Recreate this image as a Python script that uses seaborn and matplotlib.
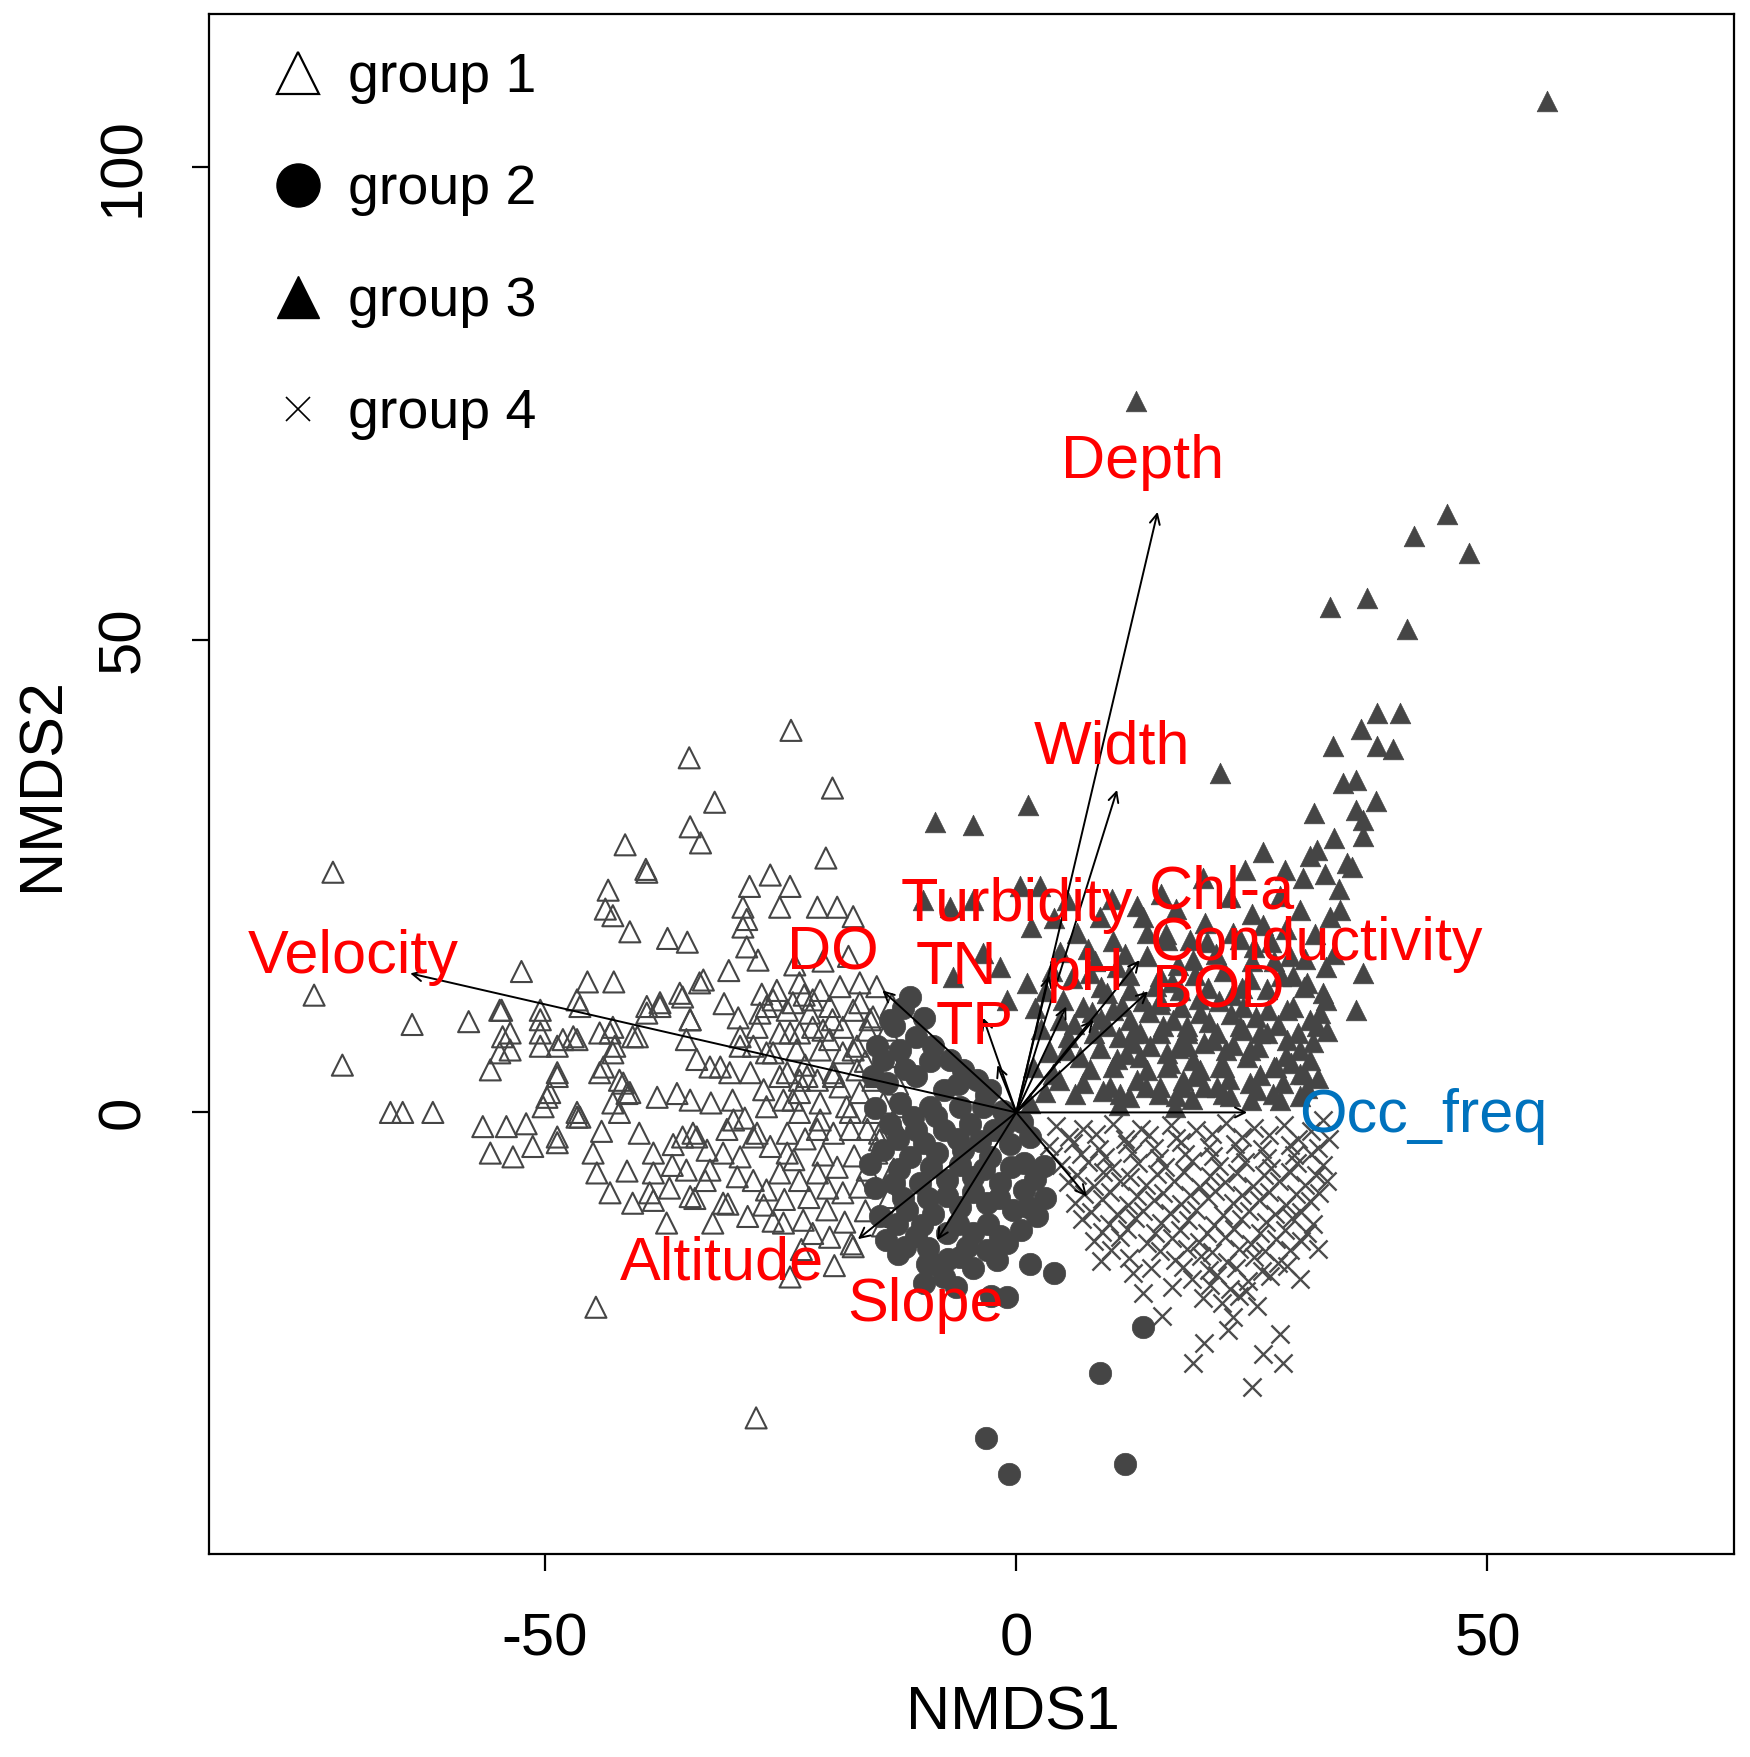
import numpy as np
import pandas as pd
import matplotlib
matplotlib.use("Agg")
import matplotlib.pyplot as plt
from matplotlib.lines import Line2D
import seaborn as sns

# ==========================================================
# Data
# ==========================================================

group1_pts = [
    (-72.5, 25.4), (-74.5, 12.4), (-71.5, 5.0), (-64.1, 9.3), (-58.1, 9.6), (-52.5, 14.9),
    (-66.4, 0.0), (-65.1, 0.0), (-61.9, 0.0),
    (-45.5, 13.8), (-42.7, 13.8), (-54.6, 10.8), (-50.5, 10.8), (-46.6, 11.9),
    (-54.5, 8.0), (-53.7, 6.6), (-50.5, 8.4), (-50.5, 7.0), (-48.1, 7.7), (-46.6, 7.7),
    (-43.1, 8.4), (-42.6, 7.0), (-40.2, 8.0), (-39.2, 11.2), (-37.8, 11.6), (-35.4, 12.2), (-34.6, 9.8),
    (-55.8, 4.5), (-48.7, 3.8), (-49.8, 1.6), (-50.2, 0.6), (-43.8, 4.8), (-41.7, 3.1), (-41.3, 2.0),
    (-38.1, 1.6), (-36.0, 2.0), (-34.6, 1.3), (-46.6, 0.0), (-42.1, 0.0), (-56.6, -1.5), (-54.1, -1.5),
    (-48.7, -2.6), (-34.3, -2.2),
    (-34.7, 37.5), (-34.6, 30.2), (-33.5, 28.5), (-41.5, 28.3), (-39.3, 25.7), (-43.3, 23.5),
    (-43.6, 21.5), (-42.8, 20.8), (-41.0, 19.1), (-37.0, 18.4), (-34.9, 18.0), (-23.9, 40.4),
    (-19.5, 34.3), (-32.0, 32.8), (-20.2, 26.9), (-26.1, 25.1), (-28.3, 23.9), (-24.0, 23.9),
    (-29.0, 21.7), (-25.1, 21.7), (-21.1, 21.7), (-19.0, 21.7), (-17.3, 20.7), (-28.6, 20.4),
    (-29.0, 19.6), (-28.6, 17.5), (-27.4, 16.1), (-33.2, 14.0), (-39.2, 25.4),
    (-54.8, 10.8), (-53.7, 8.4), (-54.8, 6.3), (-50.5, 9.8), (-48.7, 7.0), (-47.0, 8.0), (-46.3, 11.2),
    (-44.2, 8.4), (-42.8, 9.0), (-40.7, 8.0), (-42.8, 6.3), (-48.7, 4.2), (-49.5, 2.1), (-44.2, 4.2),
    (-42.1, 3.4), (-41.0, 2.1), (-42.8, 1.0), (-46.3, -0.5),
    (-39.2, 10.5), (-37.8, 11.2), (-35.7, 12.6), (-33.6, 13.7), (-34.6, 9.8), (-35.0, 7.7), (-33.9, 5.6),
    (-32.5, 4.8), (-30.4, 4.2), (-29.3, 8.0), (-27.9, 7.0), (-26.5, 6.3), (-24.3, 4.2), (-23.0, 3.4),
    (-27.2, 10.5), (-25.8, 11.9), (-23.7, 11.6), (-21.6, 11.9), (-19.8, 11.2), (-16.6, 11.6),
    (-15.5, 9.8), (-24.0, 8.4), (-21.6, 9.0), (-19.8, 7.7), (-17.3, 6.6),
    (-55.8, -4.3), (-53.4, -4.7), (-51.3, -3.6), (-48.7, -3.2), (-46.6, -0.5), (-44.9, -4.3),
    (-44.5, -6.4), (-43.1, -8.5), (-40.7, -9.6), (-38.5, -9.3), (-38.5, -4.3), (-38.5, -6.4),
    (-35.4, -2.6), (-33.9, -2.6), (-35.0, -6.1), (-34.6, -8.9), (-32.5, -6.1), (-31.1, -4.3),
    (-31.1, -9.6), (-32.2, -11.7), (-37.1, -11.7), (-30.0, -0.8), (-27.9, -2.6), (-29.3, -4.7),
    (-27.9, -7.2), (-26.5, -8.2), (-25.1, -6.4), (-26.1, -3.6), (-24.3, -4.3), (-23.0, -7.2),
    (-21.1, -6.4), (-24.7, -11.7), (-22.6, -11.4), (-20.1, -10.3), (-18.4, -8.5), (-17.3, -14.2),
    (-19.8, -13.2),
    (-24.7, 1.3), (-23.0, 0.0), (-20.8, -0.8), (-19.4, -2.2), (-17.6, 0.0), (-15.8, -1.8),
    (-14.5, -2.9), (-16.6, 2.1), (-18.7, 2.7), (-23.0, 2.1), (-21.1, 3.4), (-19.4, 4.2),
    (-15.2, 3.4), (-14.1, 1.0), (-15.8, -6.1), (-16.6, -7.9), (-14.8, -4.3),
    (-25.4, 12.9), (-23.0, 13.7), (-20.8, 12.9), (-18.7, 13.3), (-16.6, 13.7), (-14.8, 13.3),
    (-26.5, 11.2), (-24.3, 10.8), (-21.9, 10.5), (-17.3, 10.8), (-15.2, 10.1), (-27.5, 9.0),
    (-25.1, 8.4), (-23.0, 8.4), (-20.5, 8.7), (-18.4, 9.0), (-15.8, 8.7), (-13.7, 8.7),
    (-25.8, 6.3), (-23.3, 6.6), (-20.8, 6.6), (-18.4, 6.3), (-16.9, 7.0), (-29.3, 7.0),
    (-31.4, 4.8), (-28.2, 4.2), (-25.1, 3.8), (-22.2, 3.8), (-19.4, 3.8), (-16.9, 4.5), (-14.8, 3.8),
    (-30.1, 1.3), (-26.5, 0.6), (-23.7, 1.3), (-20.8, 1.0), (-18.0, 0.6), (-15.2, 0.0), (-12.3, 0.6),
    (-30.7, -1.8), (-27.5, -2.2), (-24.3, -2.2), (-21.1, -1.8), (-17.6, -1.8), (-14.5, -2.2),
    (-17.5, -13.9), (-19.3, -16.2), (-24.0, -17.4), (-22.8, -14.5), (-25.8, -11.5), (-30.6, -9.7),
    (-34.1, -9.1), (-38.9, -8.5), (-41.3, -6.2), (-36.5, -5.6), (-13.0, -6.0), (-13.5, -9.0),
    (-12.8, -11.0), (-14.2, -12.0), (-20.5, -4.5), (-22.0, -9.0), (-28.5, -11.0),
    (-29.5, 10.0), (-27.0, 12.5), (-22.5, 12.4), (-19.5, 9.8), (-16.0, 5.4), (-13.5, 5.9),
    (-13.2, 11.4), (-12.6, 3.0), (-13.0, -1.0), (-22.4, 5.0), (-26.8, 2.4), (-28.8, -0.6),
    (-32.4, 1.0), (-32.8, -4.0), (-29.6, -6.8), (-23.6, -5.0), (-20.0, -8.0), (-17.2, -4.6),
    (-16.0, -10.4), (-18.2, -11.6), (-21.6, -12.8), (-26.8, -9.8), (-22.4, -2.8), (-19.0, -5.8),
    (-24.6, -9.2), (-33.0, -7.2), (-36.8, -8.0), (-36.4, -3.4), (-40.0, -2.2), (-44.0, -2.0),
    (-52.0, -1.2), (-20.5, 16.0), (-17.8, 16.5), (-23.5, 15.6), (-31.0, 11.5), (-30.5, 15.0),
    (-44.6, -20.6), (-27.6, -32.3),
]

group2_pts = [
    (-11.3, 12.2), (-13.4, 9.8), (-12.3, 6.6), (-13.0, 9.1), (-10.6, 8.0),
    (-8.8, 7.0), (-7.0, 5.5), (-5.6, 4.5), (-4.2, 3.4), (-2.8, 2.4), (-14.1, 5.5), (-13.7, 3.1),
    (-10.6, 3.8), (-7.7, 2.4), (-12.3, 1.0), (-9.2, 0.6), (-6.0, 0.6), (-3.5, 0.6), (-13.4, -1.2),
    (-10.6, -1.9), (-7.7, -1.9), (-4.9, -1.2), (-2.4, -1.9), (-14.1, -4.0), (-11.3, -4.7),
    (-8.4, -4.3), (-5.6, -4.0), (-2.8, -4.7), (-0.7, -3.3), (1.5, -2.6), (0.8, -5.4), (2.9, -5.7),
    (-13.0, -7.5), (-10.2, -7.5), (-7.4, -7.1), (-4.6, -6.8), (-1.7, -7.5), (0.8, -8.2),
    (-11.6, -10.3), (-8.8, -10.7), (-6.0, -10.0), (-3.1, -9.6), (-0.3, -10.3), (2.2, -11.0),
    (-10.6, -13.1), (-7.4, -12.8), (-4.6, -12.8), (-1.7, -13.1), (-8.8, -16.0), (-6.0, -15.3),
    (-3.1, -14.5), (-1.0, -13.8), (-7.7, -17.4), (-9.5, -16.0),
    (-14.8, 7.0), (-15.0, -8.0), (-14.5, -11.0), (-13.8, -13.5), (-12.5, -15.0),
    (-12.0, 11.0), (-9.8, 10.0), (-11.8, 4.6), (-9.2, 5.4), (-6.2, 3.0), (-3.2, 1.8), (-1.4, 0.2),
    (-11.0, -0.5), (-8.5, -0.4), (-6.2, -2.8), (-3.8, -3.0), (-1.2, -1.2), (0.6, -1.0),
    (-12.5, -2.8), (-9.8, -3.2), (-12.4, -6.0), (-9.0, -5.8), (-6.0, -5.6), (-3.4, -6.0),
    (-0.6, -5.8), (2.0, -7.0), (-12.0, -9.0), (-9.4, -9.0), (-7.4, -8.8), (-4.6, -8.4),
    (-1.8, -9.0), (1.2, -10.0), (-12.6, -11.8), (-10.0, -11.9), (-6.2, -11.8), (-3.0, -11.8),
    (0.5, -12.4), (-11.8, -14.2), (-9.4, -14.3), (-5.2, -14.2), (-2.0, -15.6), (-7.2, -15.5),
    (-4.6, -16.4), (-9.8, -18.0), (-6.4, -18.5), (3.0, -9.0), (-15.5, -5.5), (-15.0, 0.5),
    (-15.2, 3.8),
    (1.5, -16.0), (4.0, -17.0), (-1.0, -19.5), (-2.7, -19.4), (13.5, -22.7), (8.9, -27.6),
    (-3.2, -34.4), (-0.8, -38.2), (11.5, -37.2),
]

group3_pts = [
    (9.6, 9.1), (12.1, 9.8), (15.3, 8.4), (18.1, 9.1), (20.9, 7.7), (23.7, 9.1), (25.9, 8.4),
    (28.7, 7.7), (31.2, 5.5), (30.1, 4.1), (27.3, 4.8), (24.5, 5.9), (21.6, 4.8), (18.8, 5.5),
    (16.0, 4.8), (13.1, 5.9), (10.3, 4.8), (11.0, 2.0), (13.8, 2.7), (17.0, 1.7), (19.9, 2.7),
    (22.7, 1.7), (25.5, 2.4), (28.0, 1.3), (30.1, 1.7), (17.7, 7.0), (22.3, 6.6), (12.4, 7.3),
    (30.1, 21.4), (34.4, 21.4), (25.2, 17.5), (26.6, 13.0), (30.5, 13.3), (32.9, 11.9),
    (36.8, 14.7), (36.1, 10.8), (31.9, 9.1), (28.7, 10.8), (24.1, 11.2), (19.5, 10.5),
    (15.3, 11.5), (29.4, 14.4),
    (5.3, 6.6), (8.2, 8.4), (10.7, 5.6), (13.1, 8.4), (16.0, 6.3), (18.1, 8.4), (3.9, 4.1),
    (7.1, 3.1), (9.9, 2.7), (12.8, 3.4), (15.3, 2.7), (17.7, 3.4), (1.8, 4.8), (4.6, 9.8),
    (7.1, 11.2), (9.6, 12.6), (12.1, 12.9), (15.3, 14.4), (17.4, 12.9), (18.8, 16.1),
    (10.7, 15.4), (15.9, 18.9),
    (-9.9, 22.5), (-7.0, 21.7), (-4.6, 22.5), (0.4, 23.9), (2.5, 23.9), (5.4, 22.5), (6.4, 19.0),
    (8.9, 20.7), (12.8, 21.8), (13.5, 20.7), (-1.7, 15.4), (1.1, 13.7), (-6.7, 14.3), (-3.5, 16.9),
    (-1.0, 11.9), (5.0, 11.9), (7.8, 14.7), (10.3, 10.8), (12.4, 8.4), (15.3, 11.9), (16.6, 9.8),
    (18.1, 7.0), (18.4, 18.2), (13.9, 19.0),
    (-8.6, 30.7), (-4.6, 30.4), (1.3, 32.5), (21.6, 35.9), (12.7, 75.2), (56.3, 107.0),
    (45.7, 63.3), (42.2, 60.9), (48.0, 59.2), (33.3, 53.4), (37.2, 54.4), (41.5, 51.1),
    (38.3, 42.2), (40.7, 42.2), (36.6, 40.5), (33.6, 38.7), (38.3, 38.7), (40.0, 38.4),
    (34.7, 34.8), (36.0, 35.2), (31.6, 31.7), (36.1, 32.0), (36.8, 30.9), (38.2, 32.9),
    (36.8, 29.2), (31.9, 27.8), (31.2, 27.1), (33.7, 29.0), (35.1, 26.4), (35.6, 26.0),
    (26.2, 27.5), (28.5, 25.6), (34.2, 23.6), (24.3, 25.6), (33.3, 20.7),
    (30.8, 13.7), (32.6, 12.6), (33.7, 16.8), (32.9, 15.4), (29.4, 11.2), (31.2, 9.8),
    (26.6, 8.4), (24.1, 8.7), (21.3, 8.4), (18.1, 8.7), (15.6, 9.1), (30.1, 6.6), (27.6, 4.8),
    (24.8, 6.6), (22.0, 4.8), (19.5, 4.5), (16.3, 5.2), (24.8, 3.1), (21.3, 2.7), (17.7, 2.7),
    (28.3, 3.1), (30.5, 4.1),
    (17.0, 21.5), (20.0, 20.0), (23.0, 19.0), (25.0, 16.0), (22.0, 15.0), (19.0, 14.5),
    (27.0, 18.0), (29.0, 16.5),
    (3.1, 2.2), (6.2, 1.9), (9.2, 2.3), (12.0, 1.6), (15.1, 2.0), (18.7, 1.4), (21.9, 1.9),
    (24.9, 1.3), (27.2, 2.0), (30.8, 2.6),
    (3.6, 6.4), (6.8, 5.9), (8.9, 6.8), (11.6, 6.2), (14.2, 7.0), (17.2, 6.8), (19.9, 7.3),
    (23.0, 7.1), (25.6, 6.9), (28.6, 6.0), (31.5, 7.4),
    (2.6, 8.8), (6.1, 9.3), (9.0, 9.9), (11.2, 11.3), (14.1, 10.6), (17.5, 11.1), (20.4, 9.6),
    (22.8, 10.4), (25.4, 10.1), (27.8, 9.2), (33.0, 8.6),
    (3.1, 12.8), (5.9, 14.2), (9.0, 13.3), (12.0, 14.5), (14.8, 13.4), (17.2, 15.6), (20.3, 13.2),
    (22.9, 12.4), (24.8, 14.1), (28.1, 14.4), (30.6, 16.2),
    (4.6, 17.0), (7.6, 17.3), (10.3, 18.1), (13.9, 16.5), (16.0, 18.2), (21.2, 16.8), (23.7, 18.3),
    (26.2, 19.8), (28.6, 19.4), (31.7, 18.9),
    (1.6, 19.6), (4.0, 20.6), (10.2, 22.6), (15.4, 23.1), (19.8, 24.8), (22.7, 22.8), (28.0, 22.9),
    (30.4, 24.8), (32.8, 25.2),
    (1.5, 1.0), (4.5, 3.4), (7.8, 4.6), (10.9, 0.8), (13.9, 4.5), (16.8, 0.6), (19.0, 3.8),
    (22.6, 3.5), (25.9, 4.0), (29.2, 5.2), (32.0, 3.6), (5.5, 8.0), (8.0, 10.6), (10.9, 8.0),
    (13.5, 11.8), (16.5, 13.8), (19.4, 12.0), (21.5, 11.8), (24.0, 13.2), (26.7, 10.8),
    (29.9, 8.4), (32.2, 10.5), (2.0, 11.0), (3.8, 15.0), (8.4, 16.0), (11.5, 16.8), (20.2, 18.0),
    (25.0, 21.0), (27.4, 16.0),
]

group4_pts = [
    (4.2, -1.4), (7.1, -1.8), (10.3, -1.2), (13.2, -1.7), (16.4, -1.3), (19.1, -1.9), (22.3, -1.1),
    (25.2, -1.6), (28.4, -1.3), (31.3, -2.0),
    (3.5, -3.6), (6.0, -3.2), (8.8, -3.9), (11.7, -3.3), (14.6, -3.8), (17.5, -3.1), (20.4, -3.7),
    (23.2, -3.3), (26.1, -3.9), (29.0, -3.4), (32.0, -3.8),
    (4.8, -5.6), (7.6, -5.2), (10.2, -5.9), (12.9, -5.3), (15.8, -5.8), (18.6, -5.1), (21.5, -5.7),
    (24.3, -5.2), (27.0, -5.9), (29.8, -5.4), (32.6, -5.6),
    (5.5, -7.4), (8.3, -7.8), (11.0, -7.2), (13.8, -7.7), (16.7, -7.3), (19.5, -7.9), (22.2, -7.4),
    (25.1, -7.8), (27.9, -7.2), (30.6, -7.7), (33.0, -7.3),
    (6.2, -9.6), (9.1, -9.2), (11.9, -9.8), (14.6, -9.3), (17.5, -9.7), (20.3, -9.1), (23.0, -9.6),
    (25.8, -9.3), (28.6, -9.8), (31.2, -9.4),
    (7.0, -11.3), (9.8, -11.8), (12.6, -11.2), (15.4, -11.7), (18.2, -11.4), (21.0, -11.9),
    (23.8, -11.3), (26.5, -11.6), (29.3, -11.2), (31.5, -11.8),
    (8.2, -13.6), (11.0, -13.2), (13.9, -13.8), (16.5, -13.3), (19.4, -13.7), (22.1, -13.2),
    (24.9, -13.9), (27.6, -13.4), (30.2, -13.6), (32.0, -14.4),
    (9.0, -15.7), (12.0, -15.4), (16.8, -15.6), (19.6, -15.2), (22.4, -15.8), (25.2, -15.3),
    (27.8, -15.9), (30.1, -17.6),
    (12.4, -17.0), (18.6, -17.6), (21.3, -17.2), (24.6, -17.8), (26.9, -17.3),
    (13.5, -19.1), (19.8, -19.6), (21.8, -20.2), (23.6, -19.4), (25.5, -20.5),
    (19.9, -24.4), (18.8, -26.5), (26.2, -25.5), (28.0, -23.4), (28.3, -26.5), (25.0, -29.0),
    (23.0, -21.6), (15.5, -21.5), (22.5, -23.0),
    (33.2, -2.8), (32.5, -0.8),
    (5.6, -2.6), (8.5, -2.3), (11.5, -2.8), (14.1, -2.4), (17.0, -2.7), (20.8, -2.3), (23.9, -2.6),
    (26.8, -2.4), (29.9, -2.8),
    (3.9, -4.6), (6.9, -4.4), (9.4, -4.7), (12.3, -4.3), (15.1, -4.8), (17.9, -4.4), (20.9, -4.6),
    (23.7, -4.3), (26.6, -4.8), (29.5, -4.5), (31.3, -4.4),
    (6.4, -6.6), (9.2, -6.3), (12.1, -6.8), (14.9, -6.5), (17.8, -6.3), (20.6, -6.7), (23.4, -6.4),
    (26.3, -6.6), (29.0, -6.3), (31.8, -6.6),
    (7.2, -8.6), (10.0, -8.4), (12.8, -8.8), (15.6, -8.5), (18.4, -8.7), (21.1, -8.3), (24.0, -8.7),
    (26.8, -8.4), (29.7, -8.6), (32.1, -8.5),
    (7.9, -10.5), (10.7, -10.7), (13.5, -10.4), (16.3, -10.6), (19.1, -10.3), (21.9, -10.8),
    (24.7, -10.4), (27.5, -10.7), (30.2, -10.5),
    (9.1, -12.6), (11.8, -12.3), (14.7, -12.7), (17.4, -12.4), (20.2, -12.8), (23.1, -12.3),
    (25.9, -12.7), (28.5, -12.4), (30.9, -12.8),
    (10.1, -14.6), (15.3, -14.7), (18.1, -14.4), (20.8, -14.8), (23.6, -14.4), (26.4, -14.7),
    (29.0, -14.5),
    (14.3, -16.5), (17.7, -16.3), (20.5, -16.7), (23.3, -16.4), (26.1, -16.8), (28.7, -16.2),
    (16.5, -18.5), (20.6, -18.3), (22.7, -18.7), (24.4, -18.9),
]

# environmental vectors (arrow tips) and their label positions
env_names = ["Velocity", "Depth", "Width", "Turbidity", "Chl-a", "Conductivity",
             "BOD", "pH", "TN", "TP", "DO", "Altitude", "Slope"]
env_tip_x = [-64.3, 15.0, 10.7, 3.5, 13.1, 8.2, 14.0, 5.3, -3.5, -2.0, -14.2, -16.8, -8.4]
env_tip_y = [14.7, 63.5, 34.1, 14.5, 16.1, 9.8, 12.8, 11.2, 10.0, 5.0, 12.9, -13.4, -13.5]
env_lab_x = [-70.3, 13.4, 10.2, 0.1, 21.8, 31.9, 21.4, 7.3, -6.4, -4.4, -19.5, -31.2, -9.6]
env_lab_y = [16.4, 68.7, 38.5, 21.9, 23.2, 17.8, 12.7, 14.6, 15.2, 8.9, 16.8, -16.0, -20.4]

# unlabelled vector heading down-right
extra_tip = (7.5, -8.9)

# species vector
occ_tip = (24.5, 0.0)
occ_lab = (43.2, -0.4)

group_labels = ["group 1", "group 2", "group 3", "group 4"]

# ==========================================================
# Plot
# ==========================================================

sns.set_theme(style="ticks")
plt.rcParams["font.family"] = ["Liberation Sans", "DejaVu Sans"]
plt.rcParams["axes.edgecolor"] = "black"
plt.rcParams["axes.linewidth"] = 1.6
plt.rcParams["text.color"] = "black"
plt.rcParams["axes.labelcolor"] = "black"
plt.rcParams["xtick.color"] = "black"
plt.rcParams["ytick.color"] = "black"
plt.rcParams["axes.unicode_minus"] = False

fig = plt.figure(figsize=(17.5, 17.57), dpi=100)
ax = fig.add_axes([0.1197, 0.1155, 0.8714, 0.8768])

pt_gray = "#454545"

df1 = pd.DataFrame(group1_pts, columns=["NMDS1", "NMDS2"])
df2 = pd.DataFrame(group2_pts, columns=["NMDS1", "NMDS2"])
df3 = pd.DataFrame(group3_pts, columns=["NMDS1", "NMDS2"])
df4 = pd.DataFrame(group4_pts, columns=["NMDS1", "NMDS2"])

sns.scatterplot(data=df1, x="NMDS1", y="NMDS2", marker="^", s=230,
                color=pt_gray, edgecolor=pt_gray, linewidth=1.5, ax=ax)
ax.collections[-1].set_facecolor("none")

sns.scatterplot(data=df4, x="NMDS1", y="NMDS2", marker="x", s=170,
                color="#4c4c4c", edgecolor="#4c4c4c", linewidth=1.7, ax=ax)

sns.scatterplot(data=df3, x="NMDS1", y="NMDS2", marker="^", s=220,
                color=pt_gray, edgecolor=pt_gray, linewidth=0.5, ax=ax)

sns.scatterplot(data=df2, x="NMDS1", y="NMDS2", marker="o", s=260,
                color=pt_gray, edgecolor=pt_gray, linewidth=0.5, ax=ax)

# vectors
arrow_kw = dict(arrowstyle="->", color="black", lw=1.4, shrinkA=0, shrinkB=0,
                mutation_scale=18)
for tx, ty in zip(env_tip_x, env_tip_y):
    ax.annotate("", xy=(tx, ty), xytext=(0, 0), arrowprops=arrow_kw)
ax.annotate("", xy=extra_tip, xytext=(0, 0), arrowprops=arrow_kw)
ax.annotate("", xy=occ_tip, xytext=(0, 0), arrowprops=arrow_kw)

for name, lx, ly in zip(env_names, env_lab_x, env_lab_y):
    ax.text(lx, ly, name, color="#ff0000", fontsize=44, ha="center", va="center")
ax.text(occ_lab[0], occ_lab[1], "Occ_freq", color="#0072bd", fontsize=44,
        ha="center", va="center")

# axes
ax.set_xlim(-85.6, 76.2)
ax.set_ylim(-46.7, 116.2)
ax.set_xticks([-50, 0, 50])
ax.set_yticks([0, 50, 100])
ax.tick_params(axis="both", direction="out", length=12, width=1.6,
               labelsize=43, pad=30, colors="black")
for lab in ax.get_yticklabels():
    lab.set_rotation(90)
    lab.set_va("center")

ax.set_xlabel("NMDS1", fontsize=44, va="center")
ax.set_ylabel("NMDS2", fontsize=44, va="center", ha="center")
ax.xaxis.set_label_coords(0.527, -0.104)
ax.yaxis.set_label_coords(-0.109, 0.50)

# legend
handles = [
    Line2D([], [], linestyle="none", marker="^", markersize=30, markerfacecolor="none",
           markeredgecolor="black", markeredgewidth=1.6),
    Line2D([], [], linestyle="none", marker="o", markersize=31, markerfacecolor="black",
           markeredgecolor="black"),
    Line2D([], [], linestyle="none", marker="^", markersize=30, markerfacecolor="black",
           markeredgecolor="black"),
    Line2D([], [], linestyle="none", marker="x", markersize=17, markeredgecolor="black",
           markeredgewidth=1.2),
]
ax.legend(handles, group_labels, loc="upper left", bbox_to_anchor=(0.0105, 1.0),
          frameon=False, fontsize=40, labelspacing=1.08, handletextpad=0.3,
          handlelength=1.2, borderaxespad=0.3)

fig.savefig("out.png", dpi=100)
plt.close(fig)
